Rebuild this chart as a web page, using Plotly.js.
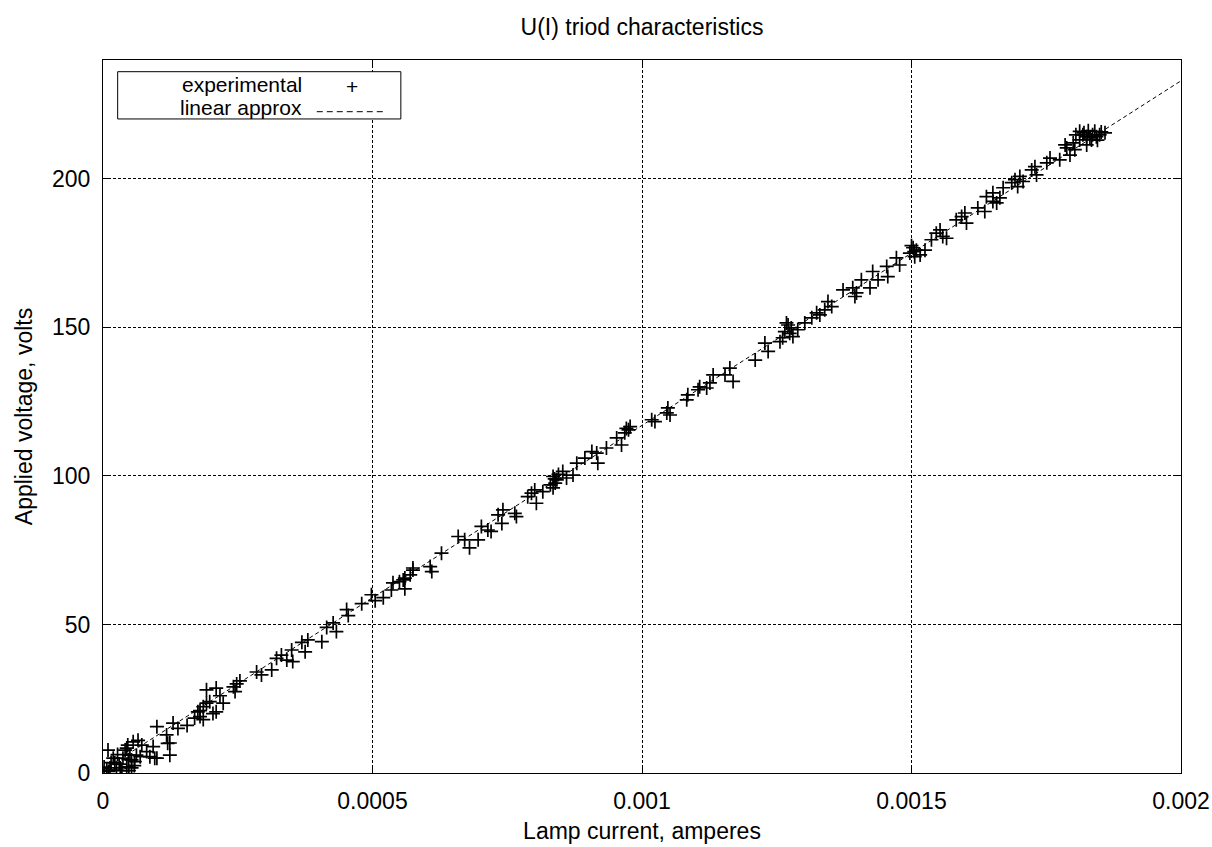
<!DOCTYPE html>
<html>
<head>
<meta charset="utf-8">
<script src="https://cdn.plot.ly/plotly-3.0.1.min.js"></script>
<style>html,body{margin:0;padding:0;background:#fff;}#chart{width:1212px;height:847px;}</style>
</head>
<body>
<div id="chart"></div>
<script>
// Experimental points (lamp current in A, applied voltage in V)
const currentA = [
  0.0000093,0.000007,0.000013,0.000019,0.000022,0.000025,0.000032,0.000037,0.000041,0.000044,
  0.000044,0.000046,0.00005,0.000053,0.000053,0.000056,0.000059,0.000062,0.000065,0.000069,
  0.000072,0.000081,0.000087,0.000093,0.000096,0.0001,0.00012,0.000124,0.000124,
  0.00001,0.00003,0.000048,0.000058,0.000035,0.000015,0.000027,0.000047,0.000002,
  0.0001,0.000118,0.00013,0.000139,0.000156,0.00018,0.00018,0.000186,0.000192,0.00021,
  0.000192,0.000204,0.000223,0.000217,0.000242,0.000248,0.000254,0.000245,0.000176,0.000186,
  0.000198,0.00021,0.00017,
  0.000285,0.000294,0.000313,0.000322,0.000331,0.000341,0.00035,0.000352,0.000369,0.000375,
  0.00038,0.000406,0.000415,0.000427,0.000433,0.000452,0.000455,0.00048,0.000498,0.000505,
  0.00052,0.000535,0.000538,0.00055,0.00056,0.000557,0.00056,0.00057,0.000575,0.000575,
  0.000607,0.00061,0.000628,0.000659,0.000671,0.00068,0.000696,0.000702,0.000714,0.00072,
  0.000733,0.00074,0.000742,0.000764,0.000767,0.000788,0.000795,0.000804,0.000801,0.000816,
  0.000835,0.000839,0.000835,0.000842,0.000853,0.00086,0.000872,0.000879,0.000894,0.000907,
  0.000916,0.000918,0.000934,0.000953,0.000962,0.000971,0.000978,0.001018,0.001024,0.001048,
  0.001046,0.001052,0.001083,0.001085,0.001104,0.00112,0.001126,
  0.000838,0.000845,0.00083,0.000975,0.000968,
  0.001107,0.001132,0.001154,0.001163,0.001169,0.00121,0.001228,0.001234,0.001256,0.001265,
  0.001271,0.001277,0.00128,0.001261,0.001289,0.001302,0.001315,0.001324,0.00133,0.001339,
  0.001345,0.001352,0.001373,0.001391,0.001398,0.001395,0.001407,0.001423,0.001428,0.001438,
  0.001454,0.001456,0.001472,0.001478,0.001497,0.001503,0.001509,0.001516,0.001506,0.001525,
  0.001537,0.001546,0.001553,0.001558,0.001565,0.001583,0.001593,0.001602,0.001599,0.001623,
  0.001636,0.001651,
  0.001274,0.001268,0.001505,0.0015,
  0.001639,0.001651,0.001658,0.001664,0.00167,0.001686,0.001692,0.001697,0.001701,0.001707,
  0.001723,0.001729,0.001732,0.001751,0.001757,0.001775,0.001788,0.001794,0.0018,0.001803,
  0.001812,0.001818,0.001825,0.001831,0.001836,0.001843,0.001849,0.001859,0.001812,0.001825,
  0.001834,0.001805,0.001785,
  0.00184,0.00182,0.001828,0.001852,0.001845
];
const voltageV = [
  7.7,1.0,1.7,5.0,3.4,1.0,1.7,5.0,7.7,2.1,
  8.4,9.4,6.0,4.4,1.7,10.5,3.8,6.0,11.0,5.5,
  9.4,7.2,5.5,8.9,5.0,5.0,10.0,6.0,10.1,
  0.5,3.0,0.8,2.5,0.8,3.5,6.2,4.5,2.0,
  15.6,12.8,16.8,15.0,16.0,19.0,21.0,18.0,28.0,28.6,
  23.5,20.0,23.5,26.0,29.0,30.0,31.0,27.4,20.6,22.3,
  24.0,20.6,18.5,
  34.0,33.0,34.7,38.6,39.7,38.0,41.4,37.5,44.0,40.8,
  44.8,44.2,49.0,50.5,47.6,55.0,53.0,57.0,60.0,58.0,
  59.0,61.6,64.0,64.4,65.6,65.0,62.0,66.7,69.0,68.3,
  69.5,67.8,74.0,79.6,78.5,75.8,78.5,83.0,81.8,81.3,
  86.9,84.0,88.6,87.4,86.3,93.0,94.2,90.8,95.3,94.7,
  99.8,97.6,96.0,98.7,101.5,99.3,100.3,104.3,106.0,108.2,
  107.7,104.3,109.4,112.8,110.4,116.0,116.6,118.9,118.3,122.9,
  121.2,120.5,125.6,127.3,129.0,129.6,131.3,
  99.0,100.5,97.0,115.5,114.5,
  130.0,134.0,134.0,136.3,131.8,139.0,144.7,141.9,145.2,148.6,
  150.8,149.8,146.9,146.5,149.2,151.5,153.2,154.9,154.2,155.9,
  158.7,157.0,162.6,163.3,161.6,160.4,166.0,163.3,168.8,166.0,
  170.5,167.1,173.4,171.0,175.0,176.8,176.0,174.4,173.8,176.0,
  179.5,181.7,182.8,180.6,180.0,186.2,187.3,185.1,188.5,190.2,
  189.0,192.4,
  148.0,151.5,175.5,177.5,
  194.0,195.3,191.9,193.6,197.0,198.7,199.7,197.4,200.8,199.1,
  203.0,204.1,201.3,205.4,207.0,206.4,210.4,208.0,212.1,209.8,
  213.1,214.8,211.4,213.8,214.8,214.2,214.8,215.5,216.0,214.2,
  213.1,214.8,211.4,
  216.0,215.5,216.2,215.8,213.0
];
// Linear approximation, end points
const fitCurrentA = [0, 0.002];
const fitVoltageV = [1, 233];
// Tick labels
const xTickVals = [0, 0.0005, 0.001, 0.0015, 0.002];
const xTickText = ['0', '0.0005', '0.001', '0.0015', '0.002'];
const yTickVals = [0, 50, 100, 150, 200];
const yTickText = ['0', '50', '100', '150', '200'];
const seriesNames = ['experimental', 'linear approx'];

const traces = [
  {
    x: currentA, y: voltageV, type: 'scatter', mode: 'markers', name: seriesNames[0],
    marker: {symbol: 'cross-thin-open', size: 10, color: '#000', line: {width: 1.7, color: '#000'}},
    hoverinfo: 'skip'
  },
  {
    x: fitCurrentA, y: fitVoltageV, type: 'scatter', mode: 'lines', name: seriesNames[1],
    line: {color: '#000', width: 1, dash: '4px,3px'},
    hoverinfo: 'skip'
  }
];

const FONT = 'Liberation Sans, Arial, Helvetica, sans-serif';
const FS = 23;
const axisCommon = {
  ticks: 'inside', ticklen: 8, tickwidth: 1, tickcolor: '#000',
  showline: true, linecolor: '#000', linewidth: 1, mirror: 'ticks',
  showgrid: true, gridcolor: '#000', gridwidth: 1, griddash: '3px,2px',
  zeroline: false, tickfont: {family: FONT, size: FS, color: '#000'},
  ticklabelstandoff: 7
};

const layout = {
  width: 1212, height: 847,
  margin: {l: 103, r: 31, t: 60, b: 74},
  paper_bgcolor: '#fff', plot_bgcolor: '#fff',
  font: {family: FONT, size: FS, color: '#000'},
  showlegend: false,
  title: {text: 'U(I) triod characteristics', x: 0.5, xref: 'paper', xanchor: 'center',
          y: 1 - 27 / 847, yref: 'container', yanchor: 'middle',
          font: {family: FONT, size: FS, color: '#000'}},
  xaxis: Object.assign({}, axisCommon, {
    range: [0, 0.002], tickmode: 'array', tickvals: xTickVals, ticktext: xTickText,
    title: {text: 'Lamp current, amperes', standoff: 10, font: {family: FONT, size: FS, color: '#000'}}
  }),
  yaxis: Object.assign({}, axisCommon, {
    range: [0, 240], tickmode: 'array', tickvals: yTickVals, ticktext: yTickText,
    title: {text: 'Applied voltage, volts', standoff: 12, font: {family: FONT, size: FS, color: '#000'}}
  }),
  shapes: [
    {type: 'rect', xref: 'paper', yref: 'paper', x0: 0.0136, x1: 0.2763, y0: 0.9173, y1: 0.9836,
     line: {color: '#000', width: 1}, fillcolor: 'rgba(255,255,255,1)', layer: 'above'},
    {type: 'line', xref: 'paper', yref: 'paper', x0: 0.1983, x1: 0.2632, y0: 0.9275, y1: 0.9275,
     line: {color: '#000', width: 1, dash: '6px,4px'}, layer: 'above'}
  ],
  annotations: [
    {text: seriesNames[0], xref: 'paper', yref: 'paper', x: 0.1854, y: (773.3 - 85) / 713.3,
     xanchor: 'right', yanchor: 'middle', showarrow: false, borderpad: 0,
     font: {family: FONT, size: 21, color: '#000'}},
    {text: seriesNames[1], xref: 'paper', yref: 'paper', x: 0.1854, y: (773.3 - 108) / 713.3,
     xanchor: 'right', yanchor: 'middle', showarrow: false, borderpad: 0,
     font: {family: FONT, size: 21, color: '#000'}},
    {text: '+', xref: 'paper', yref: 'paper', x: 0.2309, y: (773.3 - 87) / 713.3,
     xanchor: 'center', yanchor: 'middle', showarrow: false, borderpad: 0,
     font: {family: FONT, size: 21, color: '#000'}}
  ]
};

Plotly.newPlot('chart', traces, layout, {staticPlot: true, displayModeBar: false});
</script>
</body>
</html>
